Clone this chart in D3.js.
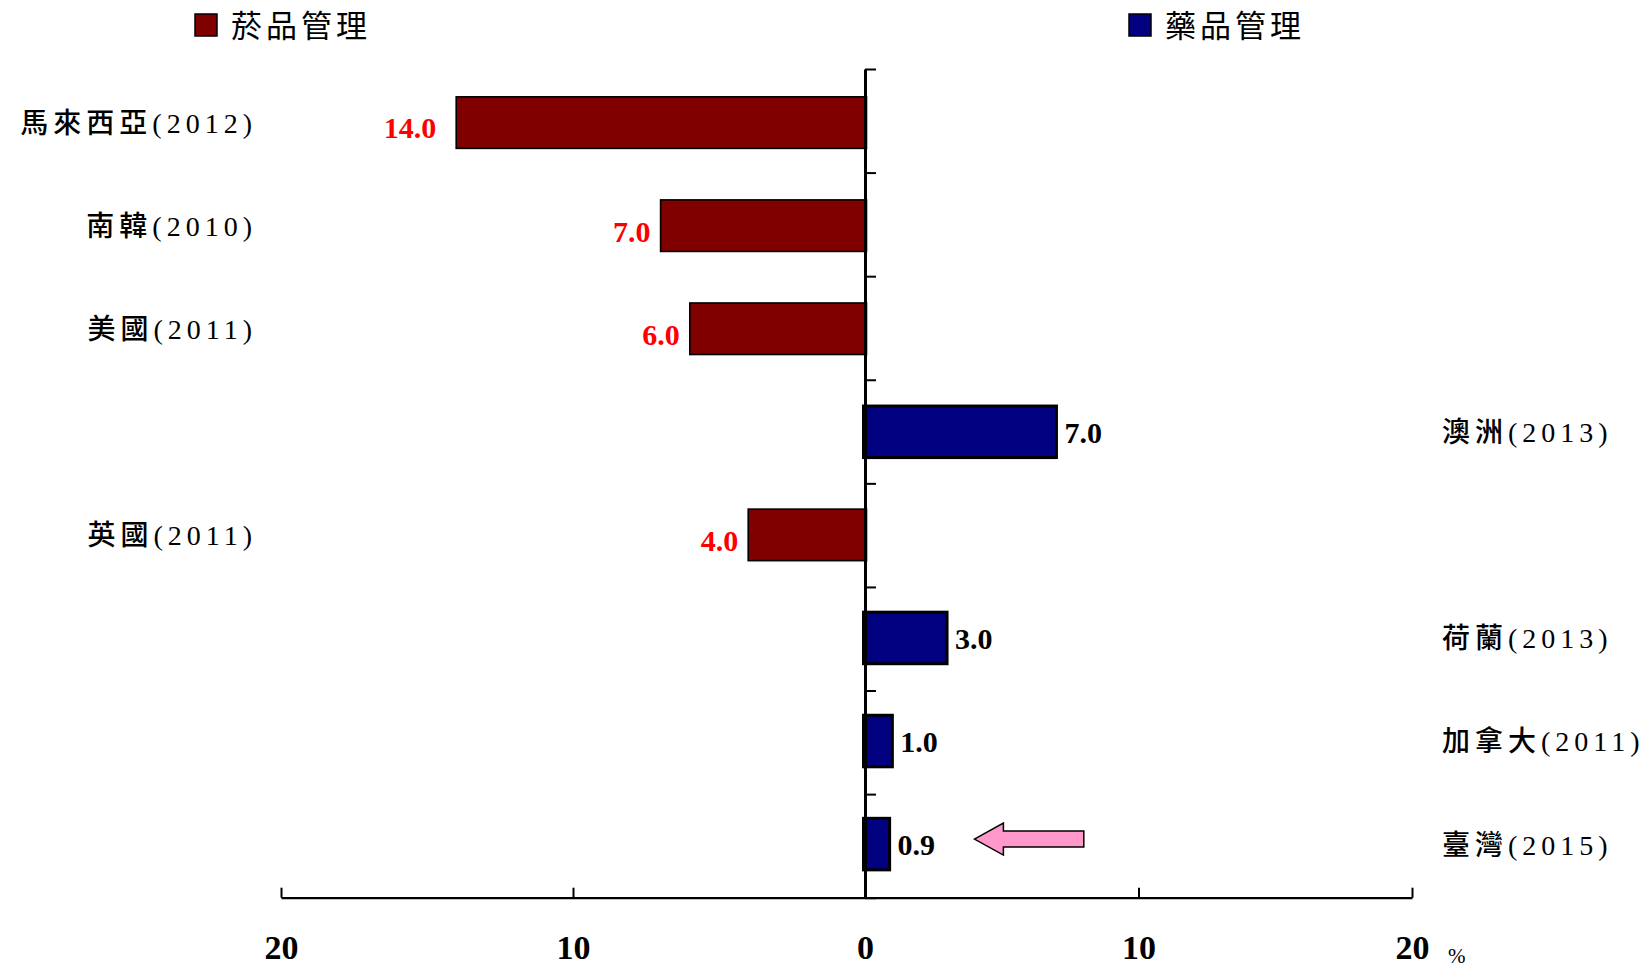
<!DOCTYPE html>
<html>
<head>
<meta charset="utf-8">
<script src="https://cdn.jsdelivr.net/npm/d3@7"></script>
<style>
  body { margin: 0; background: #fff; }
  svg { display: block; }
</style>
</head>
<body>
<svg></svg>
<script>
// countries, year in brackets
var categories = ['馬來西亞(2012)', '南韓(2010)', '美國(2011)', '澳洲(2013)',
  '英國(2011)', '荷蘭(2013)', '加拿大(2011)', '臺灣(2015)'];
// 菸品管理 (left side) and 藥品管理 (right side), %
var tobacco = [14.0, 7.0, 6.0, null, 4.0, null, null, null];
var drug = [null, null, null, 7.0, null, 3.0, 1.0, 0.9];
var leftTicks = [20, 10, 0];
var rightTicks = [10, 20];
var legendNames = ['菸品管理', '藥品管理'];
var arrowFrom = 8, arrowTo = 4;   // pink arrow pointing at Taiwan

var width = 1650,
  height = 967,
  x0 = 865,
  yTop = 69,
  yBottom = 897.7;

var red = '#800000', blue = '#000080';
var cjk = '"Liberation Serif", "Noto Sans CJK TC", serif';
var num = '"Liberation Serif", "Times New Roman", serif';

var svg = d3.select('svg')
  .attr('width', width)
  .attr('height', height);

var xL = d3.scaleLinear().domain([20, 0]).range([281, x0]);
var xR = d3.scaleLinear().domain([0, 20]).range([x0, 1412]);

var y = d3.scaleBand().domain(d3.range(categories.length))
  .range([yTop, yBottom])
  .paddingInner(0.5)
  .paddingOuter(0.27);
var yEdge = d3.scaleLinear().domain([0, categories.length]).range([yTop, yBottom]);

var rows = categories.map((c, i) => ({ name: c, t: tobacco[i], d: drug[i], i: i }));

// bars
svg.append('g').selectAll('rect')
  .data(rows.filter(d => d.t != null))
  .join('rect')
  .attr('x', d => xL(d.t))
  .attr('y', d => y(d.i))
  .attr('width', d => x0 + 1.5 - xL(d.t))
  .attr('height', y.bandwidth())
  .attr('fill', red)
  .attr('stroke', '#000')
  .attr('stroke-width', 1.6);

svg.append('g').selectAll('rect')
  .data(rows.filter(d => d.d != null))
  .join('rect')
  .attr('x', x0 - 1.5)
  .attr('y', d => y(d.i))
  .attr('width', d => xR(d.d) - x0 + 1.5)
  .attr('height', y.bandwidth())
  .attr('fill', blue)
  .attr('stroke', '#000')
  .attr('stroke-width', 3);

// value labels
svg.append('g').selectAll('text')
  .data(rows.filter(d => d.t != null))
  .join('text')
  .attr('x', d => xL(d.t) - (d.t >= 10 ? 20 : 10))
  .attr('y', d => y(d.i) + y.bandwidth() / 2 + 9)
  .attr('text-anchor', 'end')
  .attr('dominant-baseline', 'middle')
  .attr('font-family', num)
  .attr('font-weight', 'bold')
  .attr('font-size', 30)
  .attr('fill', '#ff0000')
  .text(d => d.t.toFixed(1));

svg.append('g').selectAll('text')
  .data(rows.filter(d => d.d != null))
  .join('text')
  .attr('x', d => xR(d.d) + 8)
  .attr('y', d => y(d.i) + y.bandwidth() / 2 + 4)
  .attr('dominant-baseline', 'middle')
  .attr('font-family', num)
  .attr('font-weight', 'bold')
  .attr('font-size', 30)
  .attr('fill', '#000')
  .text(d => d.d.toFixed(1));

// category labels
svg.append('g').selectAll('text')
  .data(rows)
  .join('text')
  .attr('x', d => d.t != null ? 257 : 1442)
  .attr('y', d => y(d.i) + y.bandwidth() / 2 + 4)
  .attr('text-anchor', d => d.t != null ? 'end' : 'start')
  .attr('dominant-baseline', 'middle')
  .attr('font-family', cjk)
  .attr('font-weight', 500)
  .attr('font-size', 28)
  .attr('letter-spacing', 5)
  .attr('fill', '#000')
  .text(d => d.name);

// vertical axis
var vAxis = svg.append('g')
  .attr('transform', 'translate(' + x0 + ',0)')
  .call(d3.axisRight(yEdge).tickValues(d3.range(categories.length + 1))
    .tickSizeInner(11).tickSizeOuter(0).tickFormat(''));
vAxis.select('.domain').attr('stroke-width', 3);
vAxis.selectAll('.tick line').attr('stroke-width', 2);

// bottom axis, two halves with different scales
function bottomAxis(scale, ticks) {
  var g = svg.append('g')
    .attr('transform', 'translate(0,' + yBottom + ')')
    .call(d3.axisBottom(scale).tickValues(ticks)
      .tickSizeInner(-10).tickSizeOuter(0).tickPadding(37));
  g.select('.domain').attr('stroke-width', 2.2);
  g.selectAll('.tick line').attr('stroke-width', 2);
  g.selectAll('.tick text')
    .attr('font-family', num)
    .attr('font-weight', 'bold')
    .attr('font-size', 34)
    .attr('fill', '#000');
  return g;
}
bottomAxis(xL, leftTicks);
bottomAxis(xR, rightTicks);

svg.append('text')
  .attr('x', 1448)
  .attr('y', 963)
  .attr('font-family', num)
  .attr('font-size', 21)
  .text('%');

// arrow
var ay = y(categories.length - 1) + y.bandwidth() / 2 - 5;
var ax1 = xR(arrowTo), ax2 = xR(arrowFrom), headL = 29, shaft = 8, head = 16;
svg.append('path')
  .attr('d', d3.line()([
    [ax1, ay], [ax1 + headL, ay - head], [ax1 + headL, ay - shaft], [ax2, ay - shaft],
    [ax2, ay + shaft], [ax1 + headL, ay + shaft], [ax1 + headL, ay + head]
  ]) + 'Z')
  .attr('fill', '#ff99cc')
  .attr('stroke', '#000')
  .attr('stroke-width', 1.5);

// legend
var legend = svg.append('g').selectAll('g')
  .data(legendNames)
  .join('g')
  .attr('transform', (d, i) => 'translate(' + [i ? 1129 : 195, 14] + ')');
legend.append('rect')
  .attr('width', 22)
  .attr('height', 22)
  .attr('fill', (d, i) => i ? blue : red)
  .attr('stroke', '#000')
  .attr('stroke-width', 1.5);
legend.append('text')
  .attr('x', 36)
  .attr('y', 16)
  .attr('dominant-baseline', 'middle')
  .attr('font-family', cjk)
  .attr('font-size', 31)
  .attr('letter-spacing', 4)
  .text(d => d);
</script>
</body>
</html>
